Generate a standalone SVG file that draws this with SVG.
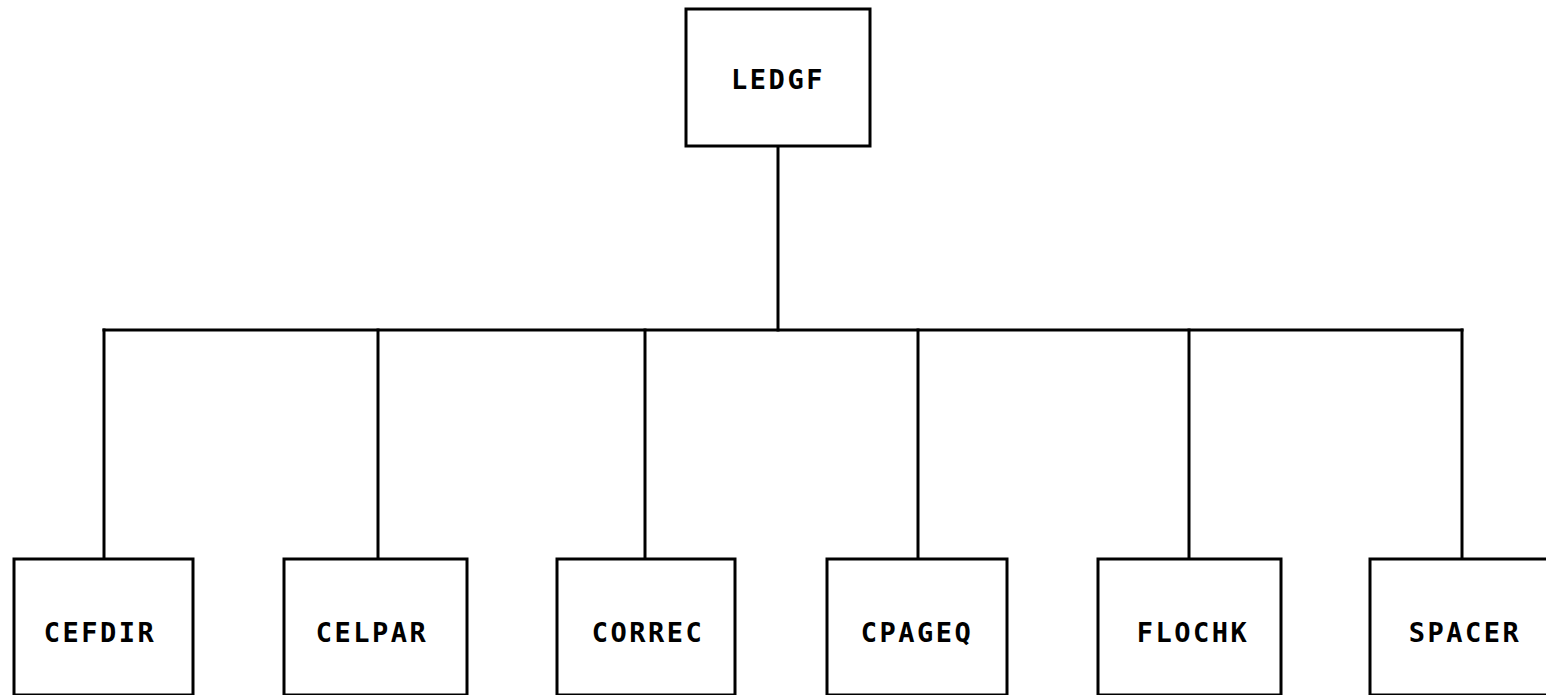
<svg xmlns="http://www.w3.org/2000/svg" width="1546" height="695" viewBox="0 0 1546 695">
<style>
  rect.box { fill: #ffffff; stroke: #000000; stroke-width: 3; }
  .conn line { stroke: #000000; stroke-width: 3; stroke-linecap: square; }
  text { font-family: "DejaVu Sans Mono", "Liberation Mono", monospace; font-size: 27px; font-weight: bold; letter-spacing: 2.5px; fill: #000000; text-anchor: middle; }
</style>
<rect x="0" y="0" width="1546" height="695" fill="#ffffff"/>
<g id="connectors" class="conn">
  <line x1="778" y1="146" x2="778" y2="330"/>
  <line x1="104" y1="330" x2="1462" y2="330"/>
  <line x1="104" y1="330" x2="104" y2="559"/>
  <line x1="378" y1="330" x2="378" y2="559"/>
  <line x1="645" y1="330" x2="645" y2="559"/>
  <line x1="918" y1="330" x2="918" y2="559"/>
  <line x1="1189" y1="330" x2="1189" y2="559"/>
  <line x1="1462" y1="330" x2="1462" y2="559"/>
</g>
<g id="LEDGF">
  <rect class="box" x="686" y="9" width="184" height="137"/>
  <text x="778" y="89">LEDGF</text>
</g>
<g id="CEFDIR">
  <rect class="box" x="14" y="559" width="179" height="136"/>
  <text x="100" y="642">CEFDIR</text>
</g>
<g id="CELPAR">
  <rect class="box" x="284" y="559" width="183" height="136"/>
  <text x="372" y="642">CELPAR</text>
</g>
<g id="CORREC">
  <rect class="box" x="557" y="559" width="178" height="136"/>
  <text x="648" y="642">CORREC</text>
</g>
<g id="CPAGEQ">
  <rect class="box" x="827" y="559" width="180" height="136"/>
  <text x="917" y="642">CPAGEQ</text>
</g>
<g id="FLOCHK">
  <rect class="box" x="1098" y="559" width="183" height="136"/>
  <text x="1193" y="642">FLOCHK</text>
</g>
<g id="SPACER">
  <rect class="box" x="1370" y="559" width="190" height="136"/>
  <text x="1465" y="642">SPACER</text>
</g>
</svg>
